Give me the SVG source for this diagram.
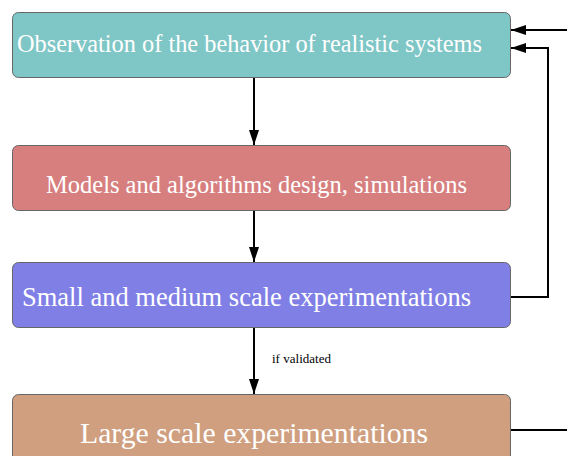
<svg xmlns="http://www.w3.org/2000/svg" width="567" height="456" viewBox="0 0 567 456">
<defs>
<marker id="ah" viewBox="0 0 15 10" refX="15" refY="5" markerWidth="15" markerHeight="10" markerUnits="userSpaceOnUse" orient="auto">
<path d="M0,0 L15,5 L0,10 Z" fill="#000"/>
</marker>
</defs>
<style>
.box{stroke:#666;stroke-width:1}
.lbl{fill:#fff}
.edge{fill:none;stroke:#000;stroke-width:2}
</style>
<rect width="567" height="456" fill="#fff"/>
<g id="n1"><rect class="box" x="12.5" y="12.5" width="498" height="65" rx="6" fill="#7fc6c6"/><text class="lbl" font-family="Liberation Serif" x="17" y="52" font-size="24.3" textLength="465" lengthAdjust="spacingAndGlyphs">Observation of the behavior of realistic systems</text></g>
<g id="n2"><rect class="box" x="12.5" y="145.5" width="498" height="65" rx="6" fill="#d77f7f"/><text class="lbl" font-family="Liberation Serif" x="46" y="193" font-size="24.3" textLength="421" lengthAdjust="spacingAndGlyphs">Models and algorithms design, simulations</text></g>
<g id="n3"><rect class="box" x="12.5" y="262.5" width="498" height="65" rx="6" fill="#7f7fe6"/><text class="lbl" font-family="Liberation Serif" x="22" y="306" font-size="26.5" textLength="449" lengthAdjust="spacingAndGlyphs">Small and medium scale experimentations</text></g>
<g id="n4"><rect class="box" x="12.5" y="394.5" width="498" height="70" rx="6" fill="#cf9f7f"/><text class="lbl" font-family="Liberation Serif" x="80" y="443" font-size="29.8" textLength="348" lengthAdjust="spacingAndGlyphs">Large scale experimentations</text></g>
<g id="edges">
<path class="edge" d="M254,78 V145" marker-end="url(#ah)"/>
<path class="edge" d="M254,211 V262" marker-end="url(#ah)"/>
<path class="edge" d="M254,328 V394" marker-end="url(#ah)"/>
<path class="edge" d="M567,30 H511" marker-end="url(#ah)"/>
<path class="edge" d="M511,297 H548 V48 H511" marker-end="url(#ah)"/>
<path class="edge" d="M511,430 H567"/>
<text x="272" y="363" font-family="Liberation Serif" font-size="12.5" fill="#000" textLength="59" lengthAdjust="spacingAndGlyphs">if validated</text>
</g>
</svg>
